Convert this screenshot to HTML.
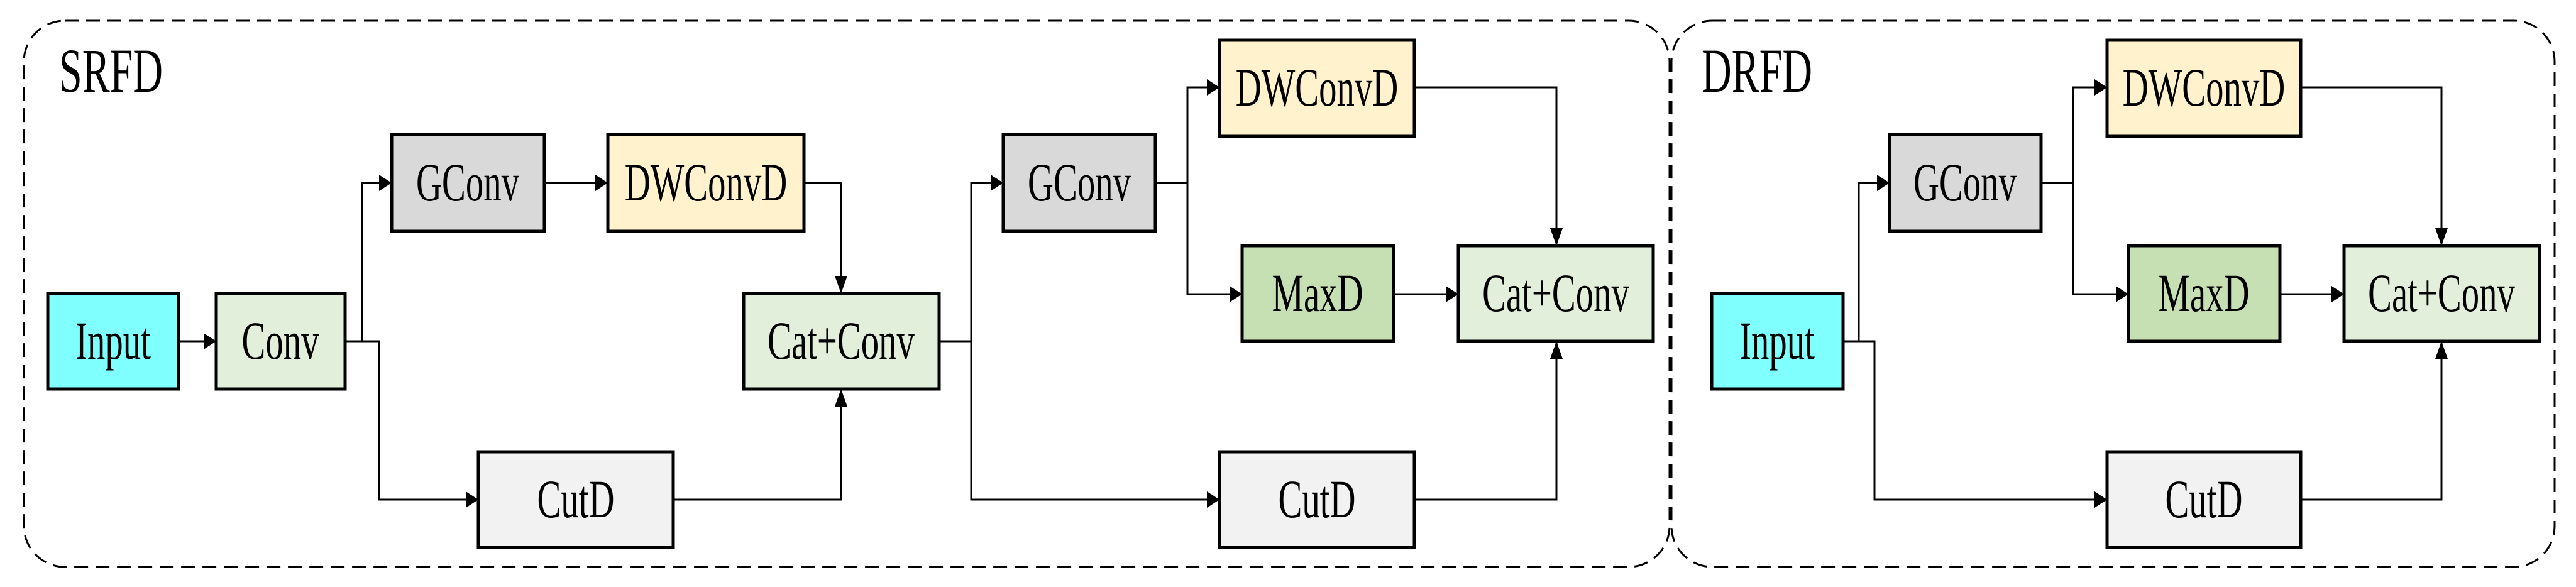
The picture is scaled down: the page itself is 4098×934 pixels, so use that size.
<!DOCTYPE html>
<html><head><meta charset="utf-8"><style>
html,body{margin:0;padding:0;background:#fff;}
svg{display:block;}
text{font-family:"Liberation Serif",serif;fill:#000;}
</style></head><body>
<svg width="4098" height="934" viewBox="0 0 4098 934" xmlns="http://www.w3.org/2000/svg">
<defs>
<marker id="ah" viewBox="0 0 20 26" refX="20" refY="13" markerWidth="20" markerHeight="26" markerUnits="userSpaceOnUse" orient="auto">
<path d="M0,0 L20,13 L0,26 Z" fill="#000"/></marker>
<marker id="av" viewBox="0 0 28 20" refX="28" refY="10" markerWidth="28" markerHeight="20" markerUnits="userSpaceOnUse" orient="auto">
<path d="M0,0 L28,10 L0,20 Z" fill="#000"/></marker>
</defs>
<!-- dashed groups -->
<rect x="38" y="33" width="2618" height="869" rx="65" ry="65" fill="none" stroke="#000" stroke-width="3" stroke-dasharray="22,12"/>
<rect x="2659" y="33" width="1405" height="869" rx="65" ry="65" fill="none" stroke="#000" stroke-width="3" stroke-dasharray="22,12"/>
<text transform="translate(94,146) scale(0.66,1)" font-size="100">SRFD</text>
<text transform="translate(2707,146) scale(0.66,1)" font-size="100">DRFD</text>

<g fill="none" stroke="#000" stroke-width="3">
<!-- SRFD part 1 -->
<path d="M284,543 H344" marker-end="url(#ah)"/>
<path d="M549,543 H576 V291 H623" marker-end="url(#ah)"/>
<path d="M549,543 H603 V795 H761" marker-end="url(#ah)"/>
<path d="M866,291 H967" marker-end="url(#ah)"/>
<path d="M1279,291 H1338 V467" marker-end="url(#av)"/>
<path d="M1071,795 H1338 V619" marker-end="url(#av)"/>
<!-- SRFD part 2 -->
<path d="M1494,543 H1545 V291 H1596" marker-end="url(#ah)"/>
<path d="M1545,543 V795 H1940" marker-end="url(#ah)"/>
<path d="M1838,291 H1889 V139 H1940" marker-end="url(#ah)"/>
<path d="M1889,291 V468 H1976" marker-end="url(#ah)"/>
<path d="M2217,468 H2320" marker-end="url(#ah)"/>
<path d="M2250,139 H2476 V391" marker-end="url(#av)"/>
<path d="M2250,795 H2476 V543" marker-end="url(#av)"/>
<!-- DRFD -->
<path d="M2932,543 H2957 V291 H3006" marker-end="url(#ah)"/>
<path d="M2932,543 H2982 V795 H3352" marker-end="url(#ah)"/>
<path d="M3247,291 H3298 V139 H3352" marker-end="url(#ah)"/>
<path d="M3298,291 V468 H3386" marker-end="url(#ah)"/>
<path d="M3627,468 H3729" marker-end="url(#ah)"/>
<path d="M3660,139 H3884 V391" marker-end="url(#av)"/>
<path d="M3660,795 H3884 V543" marker-end="url(#av)"/>
</g>

<g stroke="#000" stroke-width="5">
<rect x="76" y="467" width="208" height="152" fill="#80FFFF"/>
<rect x="344" y="467" width="205" height="152" fill="#E2EFDA"/>
<rect x="623" y="214" width="243" height="154" fill="#D9D9D9"/>
<rect x="967" y="214" width="312" height="154" fill="#FFF2CC"/>
<rect x="1183" y="467" width="311" height="152" fill="#E2EFDA"/>
<rect x="761" y="719" width="310" height="152" fill="#F2F2F2"/>

<rect x="1596" y="214" width="242" height="154" fill="#D9D9D9"/>
<rect x="1940" y="64" width="310" height="153" fill="#FFF2CC"/>
<rect x="1976" y="391" width="241" height="152" fill="#C6E0B4"/>
<rect x="2320" y="391" width="310" height="152" fill="#E2EFDA"/>
<rect x="1940" y="719" width="310" height="152" fill="#F2F2F2"/>

<rect x="2723" y="467" width="209" height="152" fill="#80FFFF"/>
<rect x="3006" y="214" width="241" height="154" fill="#D9D9D9"/>
<rect x="3352" y="64" width="308" height="153" fill="#FFF2CC"/>
<rect x="3386" y="391" width="241" height="152" fill="#C6E0B4"/>
<rect x="3729" y="391" width="311" height="152" fill="#E2EFDA"/>
<rect x="3352" y="719" width="308" height="152" fill="#F2F2F2"/>
</g>

<g font-size="86" text-anchor="middle">
<text transform="translate(180,571) scale(0.66,1)">Input</text>
<text transform="translate(446,571) scale(0.66,1)">Conv</text>
<text transform="translate(744,319) scale(0.66,1)">GConv</text>
<text transform="translate(1123,319) scale(0.66,1)">DWConvD</text>
<text transform="translate(1338,571) scale(0.66,1)">Cat+Conv</text>
<text transform="translate(916,823) scale(0.66,1)">CutD</text>

<text transform="translate(1717,319) scale(0.66,1)">GConv</text>
<text transform="translate(2095,168) scale(0.66,1)">DWConvD</text>
<text transform="translate(2096,495) scale(0.66,1)">MaxD</text>
<text transform="translate(2475,495) scale(0.66,1)">Cat+Conv</text>
<text transform="translate(2095,823) scale(0.66,1)">CutD</text>

<text transform="translate(2827,571) scale(0.66,1)">Input</text>
<text transform="translate(3126,319) scale(0.66,1)">GConv</text>
<text transform="translate(3506,168) scale(0.66,1)">DWConvD</text>
<text transform="translate(3506,495) scale(0.66,1)">MaxD</text>
<text transform="translate(3884,495) scale(0.66,1)">Cat+Conv</text>
<text transform="translate(3506,823) scale(0.66,1)">CutD</text>
</g>
</svg>
</body></html>
